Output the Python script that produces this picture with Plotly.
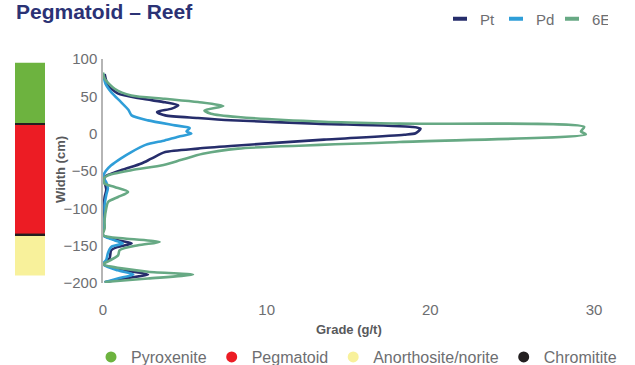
import plotly.graph_objects as go

# Grade profiles (g/t) against width (cm) through the reef
pt_width = [80, 65, 54, 47, 42, 38, 33.5, 29, 24.5, 21, 18, 13.5, 9, 6.7, 0.5, -1.5, -8, -16.6, -20, -24.6,
            -33.5, -40, -49, -58, -65, -75, -85, -100, -115, -128, -136, -142.8, -147, -151.7, -156, -167,
            -175, -183, -188.7, -194, -199]
pt_grade = [0.1, 0.3, 0.9, 2.3, 3.8, 4.6, 4.2, 3.3, 3.8, 5.8, 7.8, 13.0, 18.9, 19.4, 19.1, 18.4, 13.5, 7.8, 5.8, 3.8,
            2.95, 2.35, 1.1, 0.1, 0.1, 0.2, 0.1, 0.05, 0.05, 0.0, 0.0, 0.9, 1.75, 0.9, 0.5, 0.4,
            0.0, 1.3, 2.75, 1.3, 0.1]

pd_width = [81, 67, 55.7, 42.3, 32, 24.5, 17.8, 11.1, 7.5, 3, 0, -4, -9, -15, -24.6, -33, -42.4, -50, -58, -65,
            -73, -82, -95, -110, -128, -136, -142.8, -147, -151.7, -160, -169, -175, -183, -188.5, -194, -199]
pd_grade = [0.0, 0.15, 0.5, 1.1, 1.55, 1.75, 2.75, 4.4, 5.3, 5.1, 5.4, 4.6, 3.77, 2.6, 1.73, 1.1, 0.5, 0.17, 0.0, 0.2,
            0.3, 0.2, 0.1, 0.1, 0.0, 0.0, 0.7, 1.2, 0.5, 0.3, 0.2, 0.0, 0.9, 1.85, 0.9, 0.1]

e6_width = [82, 73.6, 60.2, 51.2, 46.8, 42.3, 37, 31.2, 26.8, 22.3, 16, 13.4, 9, 3, -1, -11.2, -20, -27, -35, -42,
            -49, -55.8, -60, -67, -71.4, -78, -84.8, -91.5, -100, -115, -127, -136, -140.5, -145, -149.5, -156,
            -163, -170, -175, -185, -188.7, -194, -198.6]
e6_grade = [0.0, 0.1, 0.71, 1.73, 3.77, 5.8, 7.35, 6.2, 6.6, 8.25, 13.5, 18.1, 29.4, 29.2, 29.5, 18.1, 8.25, 6.1, 4.8, 3.7,
            1.73, 0.31, 0.05, 0.1, 0.71, 1.53, 0.92, 0.31, 0.2, 0.1, 0.1, 0.0, 1.32, 3.46, 2.14, 1.02,
            0.92, 0.4, 0.0, 2.75, 5.5, 2.75, 0.1]

series_names = ["Pt", "Pd", "6E"]
series_colors = ["#262d6b", "#2f9ed8", "#67a984"]

# Lithology column: (name, top cm, bottom cm)
litho_units = [("Pyroxenite", 95, 13), ("Pegmatoid", 13, -135), ("Anorthosite/norite", -135, -190)]
chromitite_layers = [13, -135]
litho_names = ["Pyroxenite", "Pegmatoid", "Anorthosite/norite", "Chromitite"]
litho_colors = ["#6db33f", "#ec1c24", "#f8f19b", "#231f20"]

x_ticks = [0, 10, 20, 30]
y_ticks = [-200, -150, -100, -50, 0, 50, 100]

W, H = 635, 365
ML, MR, MT, MB = 10, 41, 59, 82
PW, PH = W - ML - MR, H - MT - MB


def px_x(p):
    return (p - ML) / PW


def px_y(p):
    return (H - MB - p) / PH


fig = go.Figure()

for name, xs, ys, col in zip(series_names, [pt_grade, pd_grade, e6_grade],
                             [pt_width, pd_width, e6_width], series_colors):
    fig.add_trace(go.Scatter(x=xs, y=ys, mode="lines", name=name, showlegend=False,
                             line=dict(color=col, width=2.6, shape="spline", smoothing=0.7),
                             xaxis="x", yaxis="y"))

# Short-dash legend keys for the grade series
for name, col in zip(series_names, series_colors):
    fig.add_trace(go.Scatter(x=[None], y=[None], mode="markers", name=name, legend="legend",
                             marker=dict(symbol="line-ew", size=10, line=dict(color=col, width=4))))

# Lithology column
for (name, top, bot), col in zip(litho_units, litho_colors[:3]):
    fig.add_trace(go.Bar(x=[0.5], y=[top - bot], base=[bot], width=1, marker=dict(color=col, line=dict(width=0)),
                         xaxis="x2", yaxis="y", showlegend=False, hoverinfo="skip"))
for lvl in chromitite_layers:
    fig.add_trace(go.Bar(x=[0.5], y=[2.4], base=[lvl - 1.2], width=1.06,
                         marker=dict(color=litho_colors[3], line=dict(width=0)),
                         xaxis="x2", yaxis="y", showlegend=False, hoverinfo="skip"))

# Lithology legend
for name, col in zip(litho_names, litho_colors):
    fig.add_trace(go.Scatter(x=[None], y=[None], mode="markers", name=name, legend="legend2",
                             marker=dict(symbol="circle", size=11, color=col)))

tick_font = dict(family="Liberation Sans, Arial, sans-serif", size=15, color="#6d6e71")
title_font = dict(family="Liberation Sans, Arial, sans-serif", size=13, color="#58595b")

fig.update_layout(
    width=W, height=H,
    margin=dict(l=ML, r=MR, t=MT, b=MB, autoexpand=False),
    paper_bgcolor="white", plot_bgcolor="white",
    font=dict(family="Liberation Sans, Arial, sans-serif", size=15, color="#6d6e71"),
    barmode="overlay",
    title=dict(text="<b>Pegmatoid – Reef</b>", x=16 / W, xanchor="left", xref="container",
               y=1 - 12 / H, yanchor="middle", yref="container",
               font=dict(family="Liberation Sans, Arial, sans-serif", size=21, color="#2b3275")),
    xaxis=dict(domain=[px_x(103), 1], range=[0, 30], tickvals=x_ticks, showgrid=False, zeroline=False,
               showline=False, ticks="", tickfont=tick_font, ticklabelstandoff=16, anchor="y"),
    xaxis2=dict(domain=[px_x(15), px_x(45)], range=[0, 1], visible=False, anchor="y"),
    yaxis=dict(range=[-200, 100], tickvals=y_ticks, showgrid=False, zeroline=False,
               showline=True, linecolor="#b5b5b5", linewidth=1.5, ticks="", tickfont=tick_font,
               ticklabelstandoff=1, anchor="x"),
    legend=dict(orientation="h", x=px_x(440), xanchor="left", y=px_y(19), yanchor="middle",
                font=dict(size=15, color="#6d6e71"), bgcolor="rgba(0,0,0,0)", itemwidth=30,
                entrywidth=11, entrywidthmode="pixels"),
    legend2=dict(orientation="h", x=px_x(91), xanchor="left", y=px_y(357), yanchor="middle",
                 font=dict(size=16, color="#6d6e71"), bgcolor="rgba(0,0,0,0)", itemwidth=30),
    annotations=[
        dict(text="<b>Width (cm)</b>", x=px_x(60), y=px_y(170), xref="paper", yref="paper",
             textangle=-90, showarrow=False, xanchor="center", yanchor="middle", font=title_font),
        dict(text="<b>Grade (g/t)</b>", x=px_x(348.5), y=px_y(329), xref="paper", yref="paper",
             showarrow=False, xanchor="center", yanchor="middle", font=title_font),
    ],
)

fig.write_html("out.html")
